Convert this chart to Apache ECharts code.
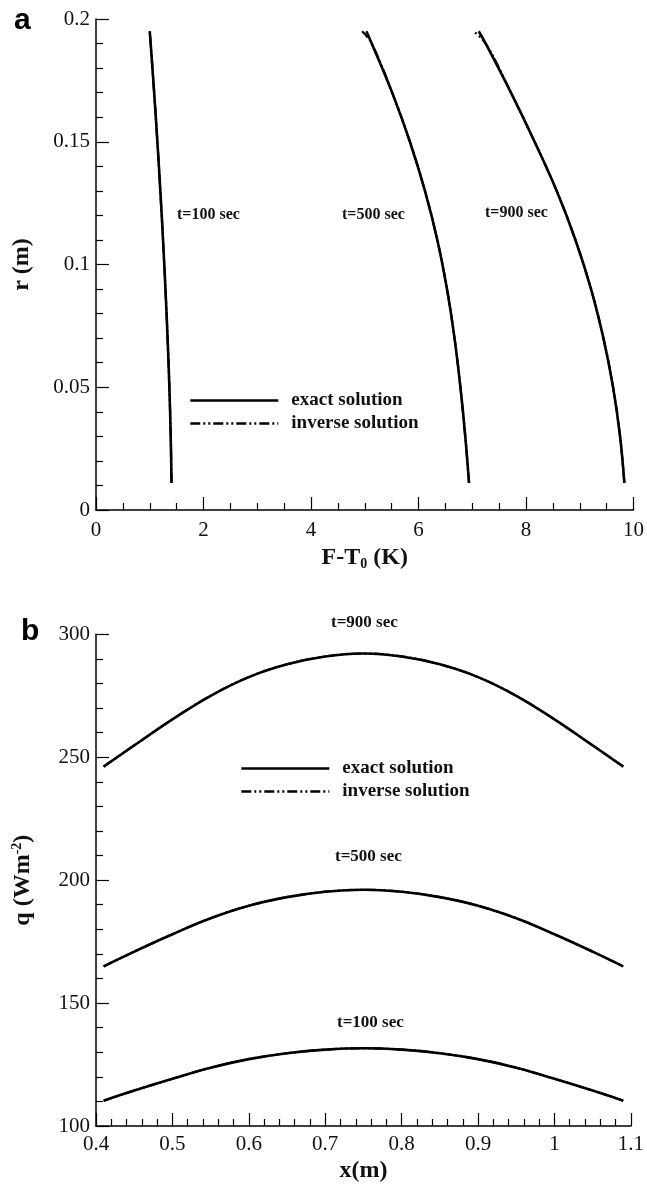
<!DOCTYPE html>
<html>
<head>
<meta charset="utf-8">
<script src="https://cdn.jsdelivr.net/npm/echarts@6/dist/echarts.min.js"></script>
<style>
html,body{margin:0;padding:0;background:#fff;}
#chart{width:647px;height:1189px;}
</style>
</head>
<body>
<div id="chart"></div>
<script>
// ---------- Panel a data ----------
const rVals = [0.011, 0.03, 0.05, 0.07, 0.09, 0.11, 0.13, 0.15, 0.17, 0.19, 0.195];
const F100 = [1.405, 1.39, 1.365, 1.332, 1.292, 1.247, 1.197, 1.142, 1.082, 1.017, 1.00];
const F500 = [6.94, 6.87, 6.78, 6.67, 6.53, 6.35, 6.12, 5.84, 5.51, 5.13, 5.03];
const F900 = [9.83, 9.75, 9.62, 9.44, 9.21, 8.92, 8.57, 8.16, 7.72, 7.25, 7.12];
const F100inv = [1.405, 1.39, 1.365, 1.332, 1.292, 1.247, 1.197, 1.142, 1.082, 1.017, 1.00];
const F500inv = [6.94, 6.87, 6.78, 6.67, 6.53, 6.35, 6.12, 5.84, 5.51, 5.13, 4.95];
const F900inv = [9.83, 9.75, 9.62, 9.44, 9.21, 8.92, 8.57, 8.16, 7.72, 7.25, 7.02];
const aXTicks = [0, 2, 4, 6, 8, 10];
const aYTicks = [0, 0.05, 0.1, 0.15, 0.2];

// ---------- Panel b data ----------
const xVals = [0.41, 0.45, 0.5, 0.55, 0.6, 0.65, 0.7, 0.75, 0.8, 0.85, 0.9, 0.95, 1.0, 1.05, 1.09];
const q900 = [246.2, 254.8, 265.4, 275.0, 282.6, 287.8, 291.0, 292.2, 291.0, 287.8, 282.6, 275.0, 265.4, 254.8, 246.2];
const q500 = [164.9, 170.9, 178.0, 184.5, 189.6, 193.1, 195.3, 196.1, 195.3, 193.1, 189.6, 184.5, 178.0, 170.9, 164.9];
const q100 = [110.3, 114.4, 119.2, 123.7, 127.2, 129.6, 131.05, 131.6, 131.05, 129.6, 127.2, 123.7, 119.2, 114.4, 110.3];
const q900inv = q900.slice();
const q500inv = q500.slice();
const q100inv = q100.slice();
const bXTicks = [0.4, 0.5, 0.6, 0.7, 0.8, 0.9, 1, 1.1];
const bYTicks = [100, 150, 200, 250, 300];

const timeLabels = ['t=100 sec', 't=500 sec', 't=900 sec'];
const legendNames = ['exact solution', 'inverse solution'];

const SERIF = '"Liberation Serif", "Times New Roman", serif';
const SANS = '"Liberation Sans", Arial, sans-serif';
const DASHDOT = [10, 3, 2, 3, 2, 3];

function pairsFR(F, r) { return F.map((f, i) => [f, r[i]]); }
function pairsXQ(x, q) { return x.map((v, i) => [v, q[i]]); }

function axisCommon(extra) {
  return Object.assign({
    type: 'value',
    axisLine: { show: true, onZero: false, lineStyle: { color: '#000', width: 1.5 } },
    axisTick: { show: true, inside: true, length: 13, lineStyle: { color: '#000', width: 1.2 } },
    minorTick: { show: true, length: 7, lineStyle: { color: '#000', width: 1.2 } },
    splitLine: { show: false },
    minorSplitLine: { show: false },
    axisLabel: { color: '#111', fontFamily: SERIF, fontSize: 21 },
    nameTextStyle: { color: '#111', fontFamily: SERIF, fontSize: 24, fontWeight: 'bold' }
  }, extra);
}

const chart = echarts.init(document.getElementById('chart'), null, { renderer: 'canvas' });

const exactStyle = { color: '#000', width: 2.6, type: 'solid' };
const invStyle = { color: '#000', width: 2.2, type: DASHDOT };

function lineSeries(name, data, xi, yi, style, z) {
  return {
    name: name, type: 'line', xAxisIndex: xi, yAxisIndex: yi,
    data: data, showSymbol: false, symbol: 'none', smooth: 0.4,
    lineStyle: style, itemStyle: { color: '#000' }, z: z,
    animation: false, silent: true
  };
}

const series = [
  lineSeries(legendNames[0], pairsFR(F100, rVals), 0, 0, exactStyle, 3),
  lineSeries(legendNames[0], pairsFR(F500, rVals), 0, 0, exactStyle, 3),
  lineSeries(legendNames[0], pairsFR(F900, rVals), 0, 0, exactStyle, 3),
  lineSeries(legendNames[1], pairsFR(F100inv, rVals), 0, 0, invStyle, 2),
  lineSeries(legendNames[1], pairsFR(F500inv, rVals), 0, 0, invStyle, 2),
  lineSeries(legendNames[1], pairsFR(F900inv, rVals), 0, 0, invStyle, 2),
  lineSeries(legendNames[0], pairsXQ(xVals, q900), 1, 1, exactStyle, 3),
  lineSeries(legendNames[0], pairsXQ(xVals, q500), 1, 1, exactStyle, 3),
  lineSeries(legendNames[0], pairsXQ(xVals, q100), 1, 1, exactStyle, 3),
  lineSeries(legendNames[1], pairsXQ(xVals, q900inv), 1, 1, invStyle, 2),
  lineSeries(legendNames[1], pairsXQ(xVals, q500inv), 1, 1, invStyle, 2),
  lineSeries(legendNames[1], pairsXQ(xVals, q100inv), 1, 1, invStyle, 2)
];

function legendAt(left, top) {
  return {
    data: legendNames.slice(),
    orient: 'vertical', left: left, top: top, padding: 0,
    itemWidth: 88, itemHeight: 14, itemGap: 2,
    selectedMode: false,
    itemStyle: { color: 'rgba(0,0,0,0)', borderColor: 'rgba(0,0,0,0)', borderWidth: 0, opacity: 0 },
    lineStyle: { width: 2.6 },
    textStyle: { color: '#111', fontFamily: SERIF, fontSize: 19, fontWeight: 'bold', lineHeight: 21, padding: [0, 0, 0, 8] }
  };
}

function txt(text, x, y, size) {
  return {
    type: 'text', x: x, y: y, silent: true,
    style: { text: text, font: 'bold ' + size + 'px ' + SERIF, fill: '#111', verticalAlign: 'middle', align: 'left' }
  };
}

const option = {
  backgroundColor: '#fff',
  animation: false,
  grid: [
    { left: 96, top: 19, width: 538, height: 491 },
    { left: 96, top: 634.3, width: 538, height: 491.7 }
  ],
  xAxis: [
    axisCommon({
      gridIndex: 0, min: aXTicks[0], max: aXTicks[aXTicks.length - 1], interval: 2,
      minorTick: { show: true, splitNumber: 4, length: 7, lineStyle: { color: '#000', width: 1.2 } },
      name: 'F-T{sub|0} (K)', nameLocation: 'middle', nameGap: 35,
      nameTextStyle: {
        color: '#111', fontFamily: SERIF, fontSize: 24, fontWeight: 'bold',
        rich: { sub: { fontFamily: SERIF, fontSize: 14, fontWeight: 'bold', verticalAlign: 'bottom', padding: [12, 0, 0, 0], color: '#111' } }
      },
      axisLabel: { color: '#111', fontFamily: SERIF, fontSize: 21, margin: 10 }
    }),
    axisCommon({
      gridIndex: 1, min: bXTicks[0], max: bXTicks[bXTicks.length - 1], interval: 0.1,
      minorTick: { show: true, splitNumber: 5, length: 7, lineStyle: { color: '#000', width: 1.2 } },
      name: 'x(m)', nameLocation: 'middle', nameGap: 33,
      axisLabel: { color: '#111', fontFamily: SERIF, fontSize: 21, margin: 8,
        formatter: v => String(+v.toFixed(2)) }
    })
  ],
  yAxis: [
    axisCommon({
      gridIndex: 0, min: aYTicks[0], max: aYTicks[aYTicks.length - 1], interval: 0.05,
      minorTick: { show: true, splitNumber: 5, length: 7, lineStyle: { color: '#000', width: 1.2 } },
      name: 'r (m)', nameLocation: 'middle', nameGap: 62, nameRotate: 90,
      axisLabel: { color: '#111', fontFamily: SERIF, fontSize: 21, margin: 6,
        formatter: v => String(+v.toFixed(3)) }
    }),
    axisCommon({
      gridIndex: 1, min: bYTicks[0], max: bYTicks[bYTicks.length - 1], interval: 50,
      minorTick: { show: true, splitNumber: 5, length: 7, lineStyle: { color: '#000', width: 1.2 } },
      name: 'q (Wm{sup|-2})', nameLocation: 'middle', nameGap: 60, nameRotate: 90,
      nameTextStyle: {
        color: '#111', fontFamily: SERIF, fontSize: 24, fontWeight: 'bold',
        rich: { sup: { fontFamily: SERIF, fontSize: 14, fontWeight: 'bold', verticalAlign: 'top', padding: [0, 0, 12, 0], color: '#111' } }
      },
      axisLabel: { color: '#111', fontFamily: SERIF, fontSize: 21, margin: 6 }
    })
  ],
  legend: [legendAt(189, 390), legendAt(240, 758)],
  series: series,
  graphic: [
    { type: 'text', x: 14, y: 21, silent: true, style: { text: 'a', font: 'bold 30px ' + SANS, fill: '#000', verticalAlign: 'middle' } },
    { type: 'text', x: 21, y: 632, silent: true, style: { text: 'b', font: 'bold 30px ' + SANS, fill: '#000', verticalAlign: 'middle' } },
    txt(timeLabels[0], 177, 215, 16),
    txt(timeLabels[1], 342, 214.5, 16),
    txt(timeLabels[2], 485, 212.5, 16),
    txt(timeLabels[2], 331, 623, 17),
    txt(timeLabels[1], 335, 856.7, 17),
    txt(timeLabels[0], 337, 1022.5, 17)
  ]
};
chart.setOption(option);
</script>
</body>
</html>
